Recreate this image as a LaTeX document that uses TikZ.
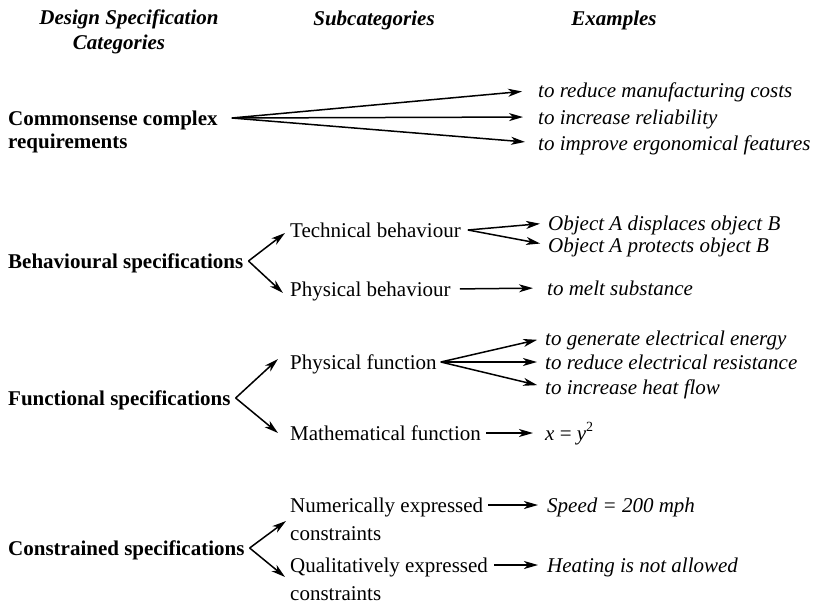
\documentclass[tikz,border=0pt]{standalone}
\usepackage{fontspec}
\setmainfont{Liberation Serif}
\usetikzlibrary{arrows.meta}
\begin{document}
\begin{tikzpicture}[x=1pt,y=-1pt,
  every node/.style={inner sep=0pt, text height=14pt, text depth=0pt,
    font=\fontsize{21}{25}\selectfont},
  head/.style={anchor=center, font=\fontsize{21}{25}\selectfont\bfseries\itshape},
  cat/.style={anchor=west, font=\fontsize{21}{25}\selectfont\bfseries},
  sub/.style={anchor=west},
  ex/.style={anchor=west, font=\fontsize{21}{25}\selectfont\itshape},
  arr/.style={-{Stealth[length=14pt,width=8pt,inset=4pt]}, line width=1.5pt},
]
\useasboundingbox (0,0) rectangle (817,613);

% column headings
\node[head] (hd1) at (129,17) {Design Specification};
\node[head] (hd2) at (119,42) {Categories};
\node[head] (hd3) at (374,18) {Subcategories};
\node[head] (hd4) at (614,18) {Examples};

% categories
\node[cat] (cc1) at (8,118) {Commonsense complex};
\node[cat] (cc2) at (8,141) {requirements};
\node[cat] (bs)  at (8,261) {Behavioural specifications};
\node[cat] (fs)  at (8,398) {Functional specifications};
\node[cat] (cs)  at (8,548) {Constrained specifications};

% subcategories
\node[sub] (tb)  at (290,230) {Technical behaviour};
\node[sub] (pb)  at (290,289) {Physical behaviour};
\node[sub] (pf)  at (290,362) {Physical function};
\node[sub] (mf)  at (290,433) {Mathematical function};
\node[sub] (nx1) at (290,505) {Numerically expressed};
\node[sub] (nx2) at (290,533) {constraints};
\node[sub] (ql1) at (290,565) {Qualitatively expressed};
\node[sub] (ql2) at (290,593) {constraints};

% examples
\node[ex] (e1) at (538,90)  {to reduce manufacturing costs};
\node[ex] (e2) at (538,117) {to increase reliability};
\node[ex] (e3) at (538,143) {to improve ergonomical features};
\node[ex] (t1) at (548,223) {Object A displaces object B};
\node[ex] (t2) at (548,245) {Object A protects object B};
\node[ex] (m1) at (547,288) {to melt substance};
\node[ex] (g1) at (545,338) {to generate electrical energy};
\node[ex] (g2) at (545,362) {to reduce electrical resistance};
\node[ex] (g3) at (545,387) {to increase heat flow};
\node[sub] (xy) at (545,433) {\itshape x \upshape= \itshape y\upshape\raisebox{0.42em}{\fontsize{14}{14}\selectfont 2}};
\node[ex] (sp) at (547,505) {Speed = 200 mph};
\node[ex] (ht) at (547,565) {Heating is not allowed};

% fork points
\coordinate (fcc) at ([xshift=14pt]cc1.east);
\coordinate (fbs) at ([xshift=5pt]bs.east);
\coordinate (ffs) at ([xshift=5pt]fs.east);
\coordinate (fcs) at ([xshift=5pt]cs.east);
\coordinate (ftb) at ([xshift=7pt]tb.east);
\coordinate (fpf) at ([xshift=4pt]pf.east);

% commonsense requirements
\draw[arr, shorten >=16pt] (fcc) -- (e1.west);
\draw[arr, shorten >=15pt] (fcc) -- (e2.west);
\draw[arr, shorten >=13pt] (fcc) -- (e3.west);

% behavioural specifications
\draw[arr] (fbs) -- ([xshift=-5pt,yshift=-3pt]tb.west);
\draw[arr] (fbs) -- ([xshift=-7pt,yshift=-4pt]pb.west);
\draw[arr, shorten >=8pt] (ftb) -- (t1.west);
\draw[arr, shorten >=8pt] (ftb) -- (t2.west);
\draw[arr, shorten <=9pt, shorten >=14pt] (pb.east) -- (m1.west);

% functional specifications
\draw[arr] (ffs) -- ([xshift=-12pt,yshift=3pt]pf.west);
\draw[arr] (ffs) -- ([xshift=-12pt]mf.west);
\draw[arr, shorten >=8pt] (fpf) -- (g1.west);
\draw[arr, shorten >=8pt] (fpf) -- (g2.west);
\draw[arr, shorten >=8pt] (fpf) -- (g3.west);
\draw[arr, shorten <=5pt, shorten >=12pt] (mf.east) -- (xy.west);

% constrained specifications
\draw[arr] (fcs) -- ([xshift=-4pt,yshift=-16pt]nx1.west);
\draw[arr] (fcs) -- ([xshift=-5pt,yshift=-12pt]ql1.west);
\draw[arr, shorten <=5pt, shorten >=9pt] (nx1.east) -- (sp.west);
\draw[arr, shorten <=6pt, shorten >=9pt] (ql1.east) -- (ht.west);
\end{tikzpicture}
\end{document}
